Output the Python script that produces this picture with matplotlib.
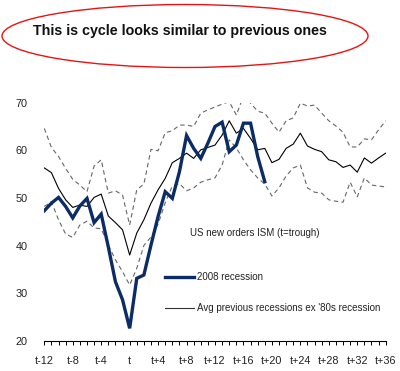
import matplotlib
matplotlib.use('Agg')
import matplotlib.pyplot as plt
from matplotlib.patches import Ellipse
import numpy

plt.rcParams['font.family'] = ['Liberation Sans', 'DejaVu Sans']

# months relative to trough (t = 0)
months = list(range(-12, 37))
tick_pos = list(range(-12, 37, 4))
tick_labels = ['t-12', 't-8', 't-4', 't', 't+4', 't+8', 't+12', 't+16',
               't+20', 't+24', 't+28', 't+32', 't+36']

recession_2008 = [47.3, 48.9, 50.1, 48.2, 45.8, 48.3, 49.9, 44.8, 46.6, 39.7,
                  32.4, 28.6, 22.6, 33.1, 33.8, 40.1, 46.1, 51.3, 49.9, 55.5,
                  63.1, 60.4, 58.3, 61.5, 65.0, 65.9, 59.7, 61.1, 65.7, 65.7,
                  58.7, 53.4]

avg_previous = [56.3, 55.3, 52.0, 49.6, 48.0, 48.5, 48.2, 50.1, 50.8, 46.2,
                44.8, 43.3, 38.0, 42.6, 45.4, 48.9, 51.7, 54.1, 57.4, 58.3,
                59.4, 58.3, 60.1, 60.6, 61.1, 63.2, 66.2, 63.6, 64.6, 62.5,
                60.1, 60.4, 57.4, 58.1, 60.4, 61.3, 63.6, 60.9, 60.2, 59.7,
                58.0, 57.6, 56.4, 56.9, 55.4, 58.4, 57.3, 58.4, 59.4]

upper_band = [64.6, 60.6, 58.7, 56.2, 53.9, 52.7, 51.3, 56.7, 58.0, 51.0,
              51.5, 50.6, 44.3, 51.7, 52.9, 60.2, 59.9, 63.7, 64.1, 65.3,
              65.3, 65.0, 67.8, 68.5, 69.1, 69.7, 70.2, 67.4, 71.4, 69.9,
              68.2, 67.8, 65.7, 63.8, 66.2, 66.8, 69.9, 69.3, 69.5, 67.8,
              66.2, 65.1, 63.8, 60.7, 60.7, 62.4, 62.2, 64.3, 66.2]

lower_band = [48.2, 49.2, 45.4, 42.4, 41.7, 44.3, 45.1, 43.7, 43.5, 40.1,
              37.0, 34.5, 31.7, 35.2, 40.0, 41.8, 44.5, 49.0, 52.5, 53.0,
              51.5, 52.1, 53.3, 53.8, 54.2, 56.9, 62.2, 60.5, 58.0, 55.9,
              54.2, 52.9, 50.4, 52.1, 54.6, 56.3, 56.9, 52.1, 51.2, 51.0,
              49.6, 49.3, 49.1, 53.3, 50.2, 54.2, 52.7, 52.5, 52.3]

navy = '#0c2c66'
txt = '#222222'

fig = plt.figure(figsize=(4.0, 3.71), dpi=100)
fig.patch.set_facecolor('white')

## title in a red ellipse
fig.patches.append(Ellipse((185 / 400, 1 - 36 / 371), 366 / 400, 63 / 371,
                           transform=fig.transFigure, fill=False,
                           edgecolor='#ee1111', linewidth=1.0))
fig.text(180 / 400, 1 - 31 / 371, 'This is cycle looks similar to previous ones',
         ha='center', va='center', fontsize=10.3, fontweight='bold', color='#111111')

ax = fig.add_axes([44.3 / 400, 1 - 340.7 / 371, (385.7 - 44.3) / 400, (340.7 - 102.7) / 371])

ax.plot(months, upper_band, color='#666666', lw=0.8, ls=(0, (4, 3)))
ax.plot(months, lower_band, color='#666666', lw=0.8, ls=(0, (4, 3)))
ax.plot(months, avg_previous, color='black', lw=0.8)
ax.plot(months[:len(recession_2008)], recession_2008, color=navy, lw=2.4,
        solid_joinstyle='miter')

ax.set_xlim(-12, 36)
ax.set_ylim(20, 70)

for s in ['left', 'right', 'top']:
    ax.spines[s].set_visible(False)
ax.spines['bottom'].set_linewidth(0.8)

ax.set_xticks(tick_pos)
ax.set_xticklabels(tick_labels)
ax.set_xticks(months, minor=True)
ax.tick_params(axis='x', which='both', direction='out', length=3, width=0.7,
               labelsize=7.8, labelcolor=txt, pad=8)
ax.set_yticks(numpy.arange(20, 71, 10))
ax.tick_params(axis='y', length=0, labelsize=7.8, labelcolor=txt, pad=12)

## legend drawn by hand
ax.text(189.5 / 400, 1 - 232.5 / 371, 'US new orders ISM (t=trough)', transform=fig.transFigure,
        fontsize=7, color=txt, va='center', ha='left')
fig.lines.append(plt.Line2D([165 / 400, 194 / 400], [1 - 276.5 / 371] * 2,
                            transform=fig.transFigure, color=navy, lw=2.4))
fig.text(197 / 400, 1 - 276.5 / 371, '2008 recession', fontsize=7, color=txt,
         va='center', ha='left')
fig.lines.append(plt.Line2D([165 / 400, 194 / 400], [1 - 308 / 371] * 2,
                            transform=fig.transFigure, color='#333333', lw=0.8))
fig.text(197 / 400, 1 - 308 / 371, "Avg previous recessions ex '80s recession", fontsize=7,
         color=txt, va='center', ha='left')

fig.savefig('out.png', dpi=100)
